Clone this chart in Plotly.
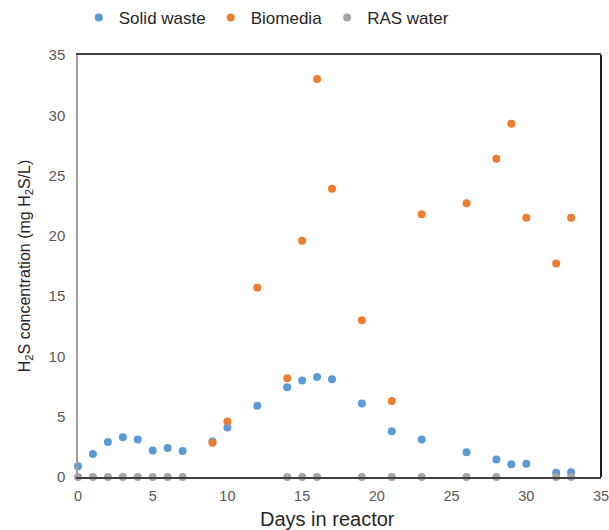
import plotly.graph_objects as go

solid_days = [0, 1, 2, 3, 4, 5, 6, 7, 9, 10, 12, 14, 15, 16, 17, 19, 21, 23, 26, 28, 29, 30, 32, 33]
solid_vals = [0.9, 1.9, 2.9, 3.3, 3.1, 2.2, 2.4, 2.15, 2.95, 4.1, 5.9, 7.45, 8.0, 8.3, 8.1, 6.1, 3.8, 3.1, 2.05, 1.45, 1.05, 1.1, 0.35, 0.4]

bio_days = [9, 10, 12, 14, 15, 16, 17, 19, 21, 23, 26, 28, 29, 30, 32, 33]
bio_vals = [2.85, 4.6, 15.7, 8.2, 19.6, 33.0, 23.9, 13.0, 6.3, 21.8, 22.7, 26.4, 29.3, 21.5, 17.7, 21.5]

ras_days = [0, 1, 2, 3, 4, 5, 6, 7, 14, 15, 16, 19, 21, 23, 26, 28, 32, 33]
ras_vals = [0] * len(ras_days)

x_ticks = [0, 5, 10, 15, 20, 25, 30, 35]
y_ticks = [0, 5, 10, 15, 20, 25, 30, 35]

FONT = "Liberation Sans, Arial, sans-serif"

fig = go.Figure()
fig.add_trace(go.Scatter(x=solid_days, y=solid_vals, mode="markers", name="Solid waste",
                         marker=dict(color="#5B9BD5", size=8), cliponaxis=False))
fig.add_trace(go.Scatter(x=bio_days, y=bio_vals, mode="markers", name="Biomedia",
                         marker=dict(color="#ED7D31", size=8), cliponaxis=False))
fig.add_trace(go.Scatter(x=ras_days, y=ras_vals, mode="markers", name="RAS water",
                         marker=dict(color="#A5A5A5", size=8), cliponaxis=False))

fig.update_layout(
    width=609, height=530,
    margin=dict(l=78, r=8, t=55, b=53),
    paper_bgcolor="white", plot_bgcolor="white",
    font=dict(family=FONT, color="#595959", size=15),
    legend=dict(orientation="h", x=0.36, xanchor="center", y=1.0, yanchor="top",
                yref="container", font=dict(size=17, color="#262626"),
                itemwidth=30, tracegroupgap=0),
    xaxis=dict(range=[0, 35], tickvals=x_ticks, showgrid=False, zeroline=False,
               showline=True, linecolor="#404040", linewidth=1.5, mirror=True,
               ticks="", tickfont=dict(size=14.5, color="#595959"), automargin=False,
               ticklabelstandoff=5, ticklabeloverflow="allow"),
    yaxis=dict(range=[0, 35], tickvals=y_ticks, showgrid=False, zeroline=False,
               showline=True, linecolor="#A0A0A0", linewidth=1.5, automargin=False,
               ticks="", tickfont=dict(size=15, color="#595959"), ticklabelstandoff=8,
               ticklabeloverflow="allow",
               title=dict(text="H<sub>2</sub>S concentration (mg H<sub>2</sub>S/L)",
                          font=dict(size=16, color="#262626"), standoff=14)),
    annotations=[dict(text="Days in reactor", xref="paper", yref="paper",
                      x=(327 - 78) / 523, y=0, yshift=-42, xanchor="center", yanchor="middle",
                      showarrow=False, font=dict(size=20, color="#262626"))],
    shapes=[dict(type="line", xref="paper", yref="paper", x0=1, x1=1, y0=0, y1=1,
                 line=dict(color="#202020", width=2))],
)

fig.write_html("out.html", config={"displayModeBar": False},
               post_script="document.body.style.margin='0';document.body.style.overflow='hidden';")
